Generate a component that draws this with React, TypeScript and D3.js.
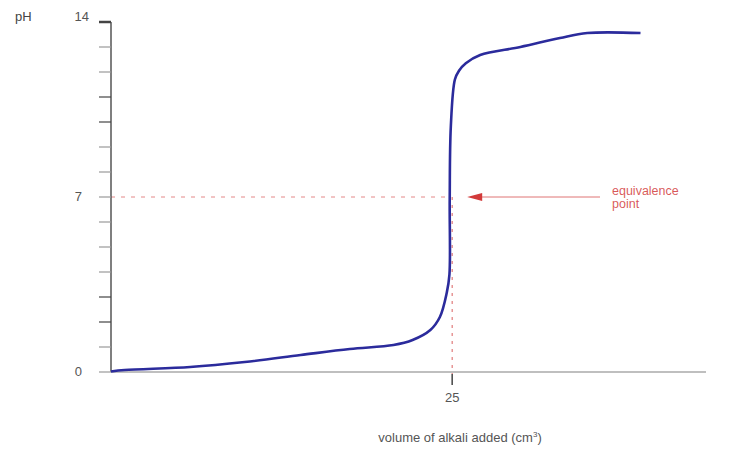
import React from "react";
import * as d3 from "d3";

const volumes = [0, 1.0, 5.8, 9.8, 13.9, 17.5, 20.7, 22.1, 23.4, 24.1, 24.6, 24.8, 24.82, 24.9, 25.2, 25.5, 26.0, 27.05, 30.0, 32.9, 34.9, 38.8];
const phValues = [0.02, 0.08, 0.2, 0.4, 0.68, 0.92, 1.08, 1.28, 1.68, 2.2, 3.16, 3.9, 6.9, 9.8, 11.7, 12.05, 12.35, 12.68, 13.0, 13.36, 13.56, 13.56];
const yTicks = d3.range(0, 15);
const yLabels = [0, 7, 14];
const xLabels = [25];
const equivalenceVolume = 25;
const equivalencePH = 7;

export default function App() {
  const W = 733, H = 449;
  const x = d3.scaleLinear().domain([0, 43.6]).range([111, 706]);
  const y = d3.scaleLinear().domain([0, 14]).range([372, 22]);
  const pts: [number, number][] = volumes.map((v, i) => [v, phValues[i]]);
  const line2 = d3.line<[number, number]>().x(d => x(d[0])).y(d => y(d[1])).curve(d3.curveCatmullRom.alpha(0.5));
  const font = "Arial, 'Liberation Sans', sans-serif";
  const red = "#d23a3a";
  const ex = x(equivalenceVolume);
  const ey = y(equivalencePH);
  return (
    <svg width={W} height={H} style={{ position: "absolute", left: 0, top: 0, background: "#fff" }} fontFamily={font}>
      <line x1={x(0)} x2={ex - 2} y1={ey} y2={ey} stroke={red} strokeOpacity={0.6} strokeWidth={1} strokeDasharray="4,6" />
      <line x1={ex} x2={ex} y1={ey} y2={y(0) + 2} stroke={red} strokeWidth={1} strokeOpacity={0.8} strokeDasharray="3,5" />
      <line x1={x(0)} x2={706} y1={y(0)} y2={y(0)} stroke="#aaa" strokeWidth={1.5} />
      {xLabels.map(v => (
        <g key={v}>
          <line x1={x(v)} x2={x(v)} y1={y(0) + 2} y2={y(0) + 13} stroke="#444" strokeWidth={1.5} />
          <text x={x(v)} y={y(0) + 30} textAnchor="middle" fontSize={13} fill="#555">{v}</text>
        </g>
      ))}
      <text x={460} y={442} textAnchor="middle" fontSize={13} fill="#555">volume of alkali added (cm<tspan dy={-5} fontSize={8}>3</tspan><tspan dy={5}>)</tspan></text>
      <line x1={x(0)} x2={x(0)} y1={y(14)} y2={y(0)} stroke="#555" strokeWidth={1.5} />
      {yTicks.map(t => (
        <line key={t} x1={x(0) - 12} x2={x(0)} y1={y(t)} y2={y(t)} stroke={t === 14 || t === 3 || t === 2 || t === 10 || t === 11 ? "#444" : "#999"} strokeWidth={t === 14 ? 2.5 : 1.2} />
      ))}
      {yLabels.map(t => (
        <text key={t} x={t === 14 ? 89 : 82} y={y(t) + (t === 14 ? -1 : 4)} textAnchor="end" fontSize={13} fill="#555">{t}</text>
      ))}
      <text x={15} y={21} fontSize={13} fill="#444">pH</text>
      <path d={line2(pts) || ""} fill="none" stroke="#2b2b9c" strokeWidth={2.6} strokeLinejoin="round" />
      <line x1={478} x2={600} y1={ey} y2={ey} stroke={red} strokeOpacity={0.7} strokeWidth={1} />
      <path d={`M${ex + 15},${ey} L${ex + 30},${ey - 4} L${ex + 30},${ey + 4} Z`} fill={red} />
      <text x={612} y={ey - 2} fontSize={12.5} fill={red} fillOpacity={0.85}>equivalence</text>
      <text x={612} y={ey + 11} fontSize={12.5} fill={red} fillOpacity={0.85}>point</text>
    </svg>
  );
}
